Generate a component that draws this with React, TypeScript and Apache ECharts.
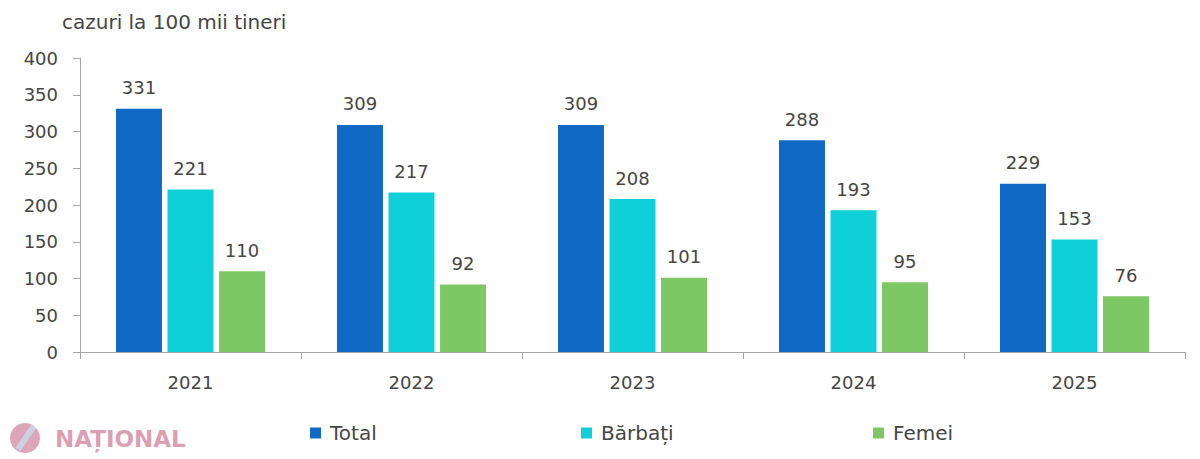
import React, { useEffect, useRef } from "react";
import * as echarts from "echarts";

const categories = ["2021", "2022", "2023", "2024", "2025"];
const totalValues = [331, 309, 309, 288, 229];
const barbatiValues = [221, 217, 208, 193, 153];
const femeiValues = [110, 92, 101, 95, 76];
const seriesNames = ["Total", "Bărbați", "Femei"];
const yTitle = "cazuri la 100 mii tineri";
const watermark = "NAȚIONAL";

const COLORS = ["#1169C6", "#0FD0D9", "#7DC865"];
const FONT = "DejaVu Sans";
const TEXT = "#454545";

export default function App() {
  const ref = useRef<HTMLDivElement>(null);
  useEffect(() => {
    document.body.style.margin = "0";
    if (!ref.current) return;
    const chart = echarts.init(ref.current, undefined, { renderer: "svg" });
    const data = [totalValues, barbatiValues, femeiValues];
    const legendLefts = [305, 576, 868];
    chart.setOption({
      animation: false,
      textStyle: { fontFamily: FONT, color: TEXT },
      grid: { left: 80, right: 15, top: 58, bottom: 107, containLabel: false },
      legend: seriesNames.map((n, i) => ({
        data: [n],
        left: legendLefts[i],
        top: 418,
        itemWidth: 11,
        itemHeight: 11,
        icon: "rect",
        textStyle: { fontFamily: FONT, fontSize: 20, color: TEXT, padding: [0, 0, 0, 4] },
      })),
      graphic: [
        {
          type: "text",
          left: 62,
          top: 12,
          style: { text: yTitle, font: `20px "${FONT}"`, fill: TEXT },
        },
        {
          type: "circle",
          shape: { cx: 25, cy: 438, r: 15 },
          style: { fill: "#DDA5B8" },
        },
        {
          type: "polygon",
          shape: { points: [[23, 424], [29, 424], [29, 452], [23, 452]] },
          rotation: -0.6,
          originX: 26,
          originY: 438,
          style: { fill: "#C9D6E8", opacity: 0.9 },
        },
        {
          type: "text",
          left: 55,
          top: 427,
          style: { text: watermark, font: `bold 23px "${FONT}"`, fill: "#DB9FB3" },
        },
      ],
      xAxis: {
        type: "category",
        data: categories,
        axisLine: { lineStyle: { color: "#A6A6A6", width: 1 } },
        axisTick: { show: true, length: 7, lineStyle: { color: "#A6A6A6" } },
        axisLabel: { fontFamily: FONT, fontSize: 18, color: TEXT, margin: 21 },
      },
      yAxis: {
        type: "value",
        min: 0,
        max: 400,
        interval: 50,
        axisLine: { show: true, lineStyle: { color: "#A6A6A6", width: 1 } },
        axisTick: { show: true, length: 7, lineStyle: { color: "#A6A6A6" } },
        splitLine: { show: false },
        axisLabel: { fontFamily: FONT, fontSize: 18, color: TEXT, margin: 22 },
      },
      series: seriesNames.map((n, i) => ({
        name: n,
        type: "bar",
        data: data[i],
        barWidth: 46,
        barGap: "12%",
        itemStyle: { color: COLORS[i] },
        label: {
          show: true,
          position: "top",
          distance: 12,
          fontFamily: FONT,
          fontSize: 18,
          color: TEXT,
        },
      })),
    });
    return () => chart.dispose();
  }, []);
  return <div ref={ref} style={{ width: 1200, height: 459 }} />;
}
